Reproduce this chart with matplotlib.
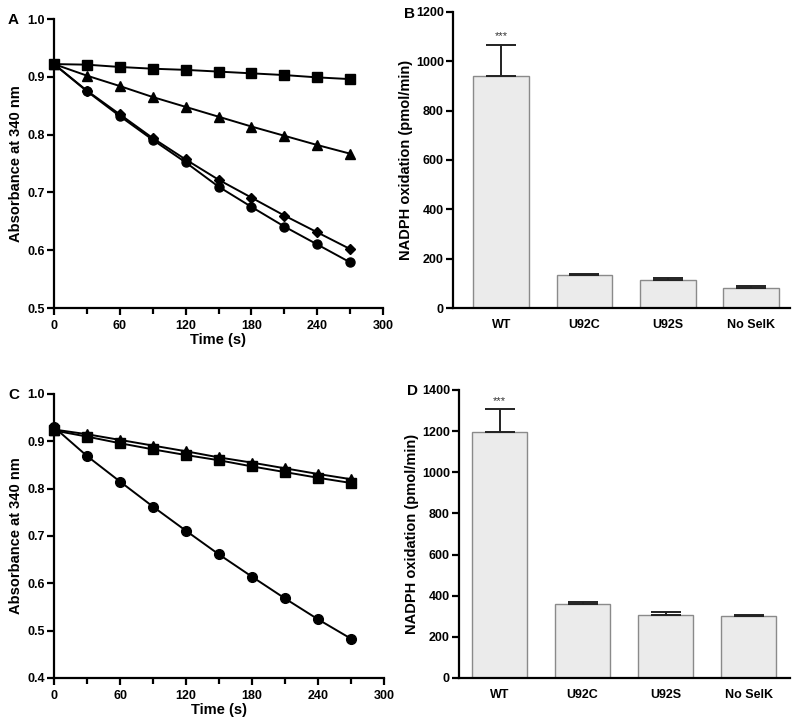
import matplotlib
matplotlib.use('Agg')
import matplotlib.pyplot as plt
from matplotlib.ticker import MultipleLocator

plt.rcParams['font.family'] = ['Liberation Sans', 'DejaVu Sans']
plt.rcParams['font.weight'] = 'bold'

# time points (s)
time = [0, 30, 60, 90, 120, 150, 180, 210, 240, 270]

# panel A
a_square = [0.922, 0.921, 0.917, 0.914, 0.912, 0.909, 0.906, 0.903, 0.899, 0.896]
a_triangle = [0.922, 0.902, 0.884, 0.865, 0.848, 0.831, 0.814, 0.798, 0.782, 0.767]
a_diamond = [0.922, 0.876, 0.835, 0.794, 0.757, 0.722, 0.691, 0.660, 0.631, 0.602]
a_circle = [0.922, 0.875, 0.832, 0.791, 0.752, 0.710, 0.675, 0.641, 0.610, 0.579]

# panel C
c_triangle = [0.925, 0.915, 0.903, 0.891, 0.879, 0.866, 0.855, 0.843, 0.831, 0.820]
c_square = [0.923, 0.910, 0.896, 0.883, 0.871, 0.860, 0.847, 0.835, 0.823, 0.812]
c_circle = [0.930, 0.869, 0.815, 0.762, 0.711, 0.661, 0.614, 0.568, 0.524, 0.483]

# panels B and D
groups = ['WT', 'U92C', 'U92S', 'No SelK']
b_mean = [940, 133, 114, 80]
b_err = [127, 4, 6, 11]
d_mean = [1197, 362, 305, 303]
d_err = [110, 7, 14, 4]

fig = plt.figure(figsize=(8, 7.26), dpi=100)
W, H = 800, 726


def axes_px(left, right, top, bottom):
    return fig.add_axes([left / W, 1 - bottom / H, (right - left) / W, (bottom - top) / H])


def panel_label(x, y, s):
    fig.text(x / W, 1 - y / H, s, fontsize=11, fontweight='bold', ha='right', va='center')


def style(ax):
    for s in ['top', 'right']:
        ax.spines[s].set_visible(False)
    for s in ['left', 'bottom']:
        ax.spines[s].set_linewidth(1.6)
    ax.tick_params(which='both', direction='out', width=1.6, labelsize=9)
    ax.tick_params(which='major', length=5)
    ax.tick_params(which='minor', length=4)
    ax.tick_params(axis='y', pad=1.5)


def line_panel(ax, series, ylim):
    for y, m, ms in series:
        ax.plot(time, y, color='black', lw=1.4, marker=m, markersize=ms, clip_on=False)
    ax.set_xlim(0, 300)
    ax.set_ylim(*ylim)
    ax.xaxis.set_major_locator(MultipleLocator(60))
    ax.xaxis.set_minor_locator(MultipleLocator(30))
    ax.yaxis.set_major_locator(MultipleLocator(0.1))
    ax.yaxis.set_major_formatter(matplotlib.ticker.FormatStrFormatter('%.1f'))
    ax.set_xlabel('Time (s)', fontsize=10.5, fontweight='bold', labelpad=1)
    ax.set_ylabel('Absorbance at 340 nm', fontsize=10.5, fontweight='bold', labelpad=3)
    style(ax)


def bar_panel(ax, means, errs, ylim, step, xlim):
    x = range(len(groups))
    ax.bar(x, means, width=0.67, color='#ebebeb', edgecolor='#8a8a8a', linewidth=1.0, zorder=2)
    ax.errorbar(x, means, yerr=[[0] * len(errs), errs], fmt='none', ecolor='#222222',
                elinewidth=1.4, capsize=10.5, capthick=1.4, zorder=3)
    ax.text(0, means[0] + errs[0] + ylim[1] * 0.012, '***', ha='center', va='bottom',
            fontsize=8, fontweight='normal', color='#333333')
    ax.set_xlim(*xlim)
    ax.set_ylim(*ylim)
    ax.yaxis.set_major_locator(MultipleLocator(step))
    ax.set_xticks(list(x))
    ax.set_xticklabels(groups, fontsize=12, fontweight='bold')
    ax.set_ylabel('NADPH oxidation (pmol/min)', fontsize=10.5, fontweight='bold', labelpad=2)
    style(ax)
    ax.tick_params(axis='x', length=0, pad=8)


axA = axes_px(54, 383, 19, 308)
line_panel(axA, [(a_square, 's', 7), (a_triangle, '^', 7), (a_diamond, 'D', 4.8),
                 (a_circle, 'o', 6.5)], (0.5, 1.0))
panel_label(19, 20, 'A')

axB = axes_px(453, 790, 12, 308)
bar_panel(axB, b_mean, b_err, (0, 1200), 200, (-0.58, 3.47))
panel_label(415, 14, 'B')

axC = axes_px(54, 384, 394, 678)
line_panel(axC, [(c_triangle, '^', 7), (c_square, 's', 7), (c_circle, 'o', 7)],
           (0.4, 1.0))
panel_label(19, 395, 'C')

axD = axes_px(459, 790, 390, 678)
bar_panel(axD, d_mean, d_err, (0, 1400), 200, (-0.49, 3.5))
panel_label(418, 391, 'D')

fig.savefig('out.png', dpi=100)
